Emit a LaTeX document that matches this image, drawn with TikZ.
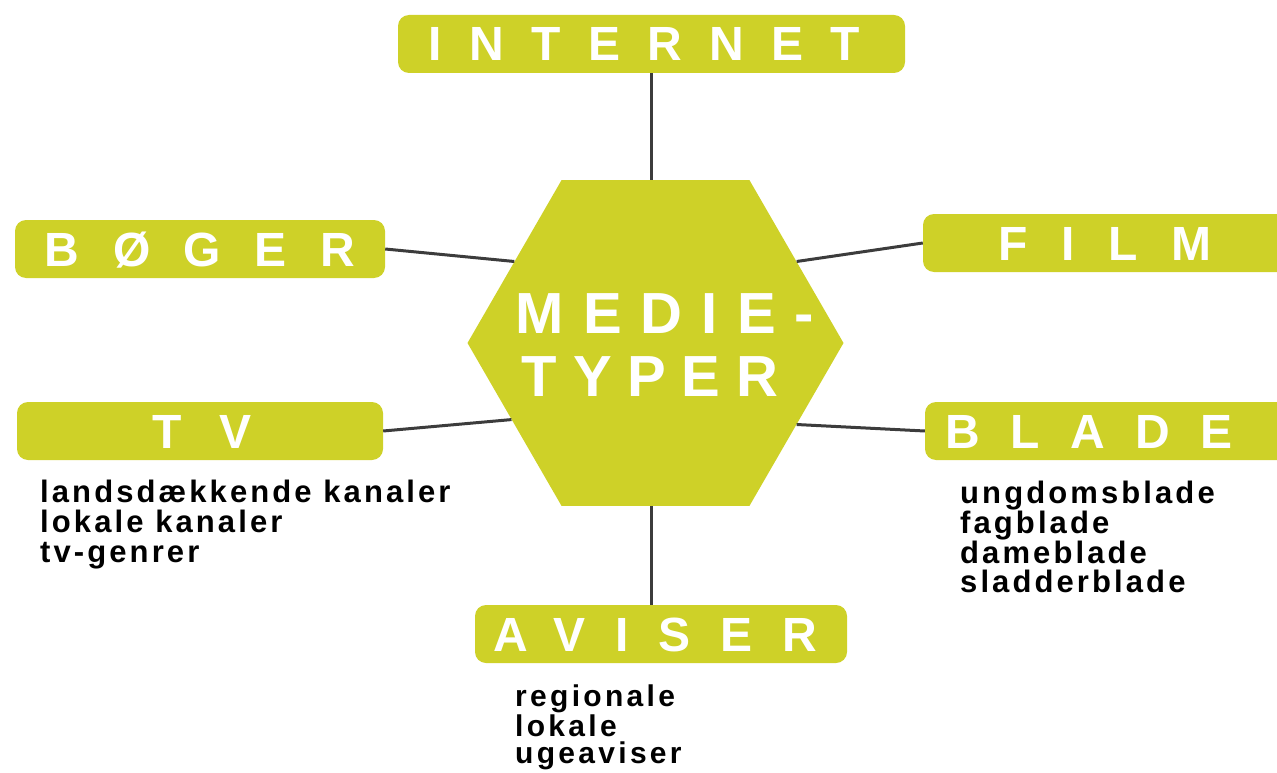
\documentclass[tikz,border=0pt]{standalone}
\usepackage{fontspec}
\setmainfont{Liberation Sans}
\usetikzlibrary{shapes.geometric}
\definecolor{medie}{RGB}{206,209,40}
\definecolor{linkgray}{RGB}{60,60,60}
\newcommand\lsp[2]{{\addfontfeature{LetterSpace=#1}#2}}
\begin{document}
\begin{tikzpicture}[x=1pt,y=-1pt,
  catbox/.style={fill=medie, rounded corners=11pt, minimum height=58pt,
    text=white, font=\fontsize{48}{48}\selectfont\bfseries,
    text height=34pt, text depth=0pt, inner sep=0pt},
  hexnode/.style={regular polygon, regular polygon sides=6, minimum size=376pt,
    fill=medie, inner sep=0pt},
  hextext/.style={text=white, align=center, inner sep=0pt,
    font=\fontsize{58}{63}\selectfont\bfseries},
  link/.style={draw=linkgray, line width=3pt},
  listtext/.style={anchor=north west, align=left, inner sep=0pt, text=black}
]
\useasboundingbox (0,0) rectangle (1277,773);

% centre hexagon
\node[hexnode] (hex) at (655.5,343) {};
\node[hextext] (hexlabel) at (660,345)
  {\hspace*{10pt}\lsp{33}{MEDIE-}\\\hspace*{-20pt}\lsp{27}{TYPER}};

% category boxes
\node[catbox, minimum width=507pt] (internet) at (651.5,44) {\hspace{-14pt}\lsp{57}{INTERNET}};
\node[catbox, minimum width=370pt] (boger) at (200,249) {\lsp{70}{BØGER}};
\node[catbox, minimum width=380pt] (film) at (1113,243) {\hspace{-16pt}\lsp{70}{FILM}};
\node[catbox, minimum width=366pt] (tv) at (200,431) {\hspace{4pt}\lsp{79}{TV}};
\node[catbox, minimum width=380pt] (blade) at (1115,431) {\hspace{-52pt}\lsp{63}{BLADE}};
\node[catbox, minimum width=372pt] (aviser) at (661,634) {\hspace{-12pt}\lsp{62}{AVISER}};

% connectors
\coordinate (vtop) at (internet.south);
\draw[link] (vtop) -- (vtop |- hex.north);
\draw[link] (vtop |- aviser.north) -- (vtop |- hex.south);
\draw[link] (boger.east) -- (hex.150);
\draw[link] (film.west) -- (hex.30);
\draw[link] (tv.east) -- (hex.208);
\draw[link] (blade.west) -- (hex.330);

% sub-lists
\node[listtext, font=\fontsize{31}{30}\selectfont\bfseries] (tvlist) at (40,480)
  {\lsp{10}{landsdækkende kanaler}\\\lsp{10}{lokale kanaler}\\\lsp{10}{tv-genrer}};
\node[listtext, font=\fontsize{31}{28.5}\selectfont\bfseries] (bladelist) at (960,481)
  {\lsp{10}{ungdomsblade}\\\lsp{10}{fagblade}\\\lsp{10}{dameblade}\\\lsp{10}{sladderblade}};
\node[listtext, font=\fontsize{30}{27.5}\selectfont\bfseries] (aviserlist) at (515,685)
  {\lsp{11}{regionale}\\\lsp{11}{lokale}\\\lsp{11}{ugeaviser}};
\end{tikzpicture}
\end{document}
